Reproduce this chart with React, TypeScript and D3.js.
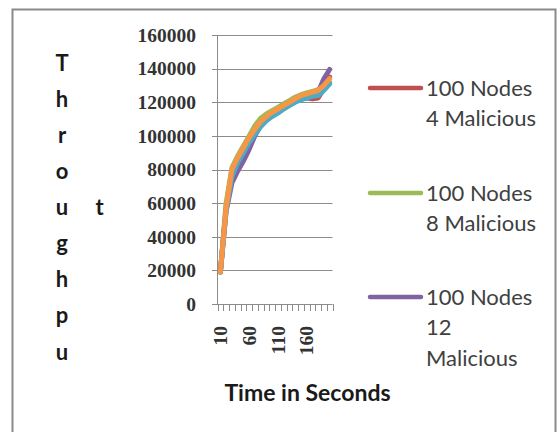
import React from "react";
import * as d3 from "d3";

const categories = [10, 20, 30, 40, 50, 60, 70, 80, 90, 100, 110, 120, 130, 140, 150, 160, 170, 180, 190, 200];
const xTickLabels = [10, 60, 110, 160];
const yTicks = [0, 20000, 40000, 60000, 80000, 100000, 120000, 140000, 160000];

const red4 = [19000, 58000, 79000, 86000, 92000, 98000, 104000, 109000, 112000, 114500, 116500, 118000, 119500, 121000, 122000, 122500, 122000, 122500, 128000, 135000];
const green8 = [19000, 60000, 81000, 88000, 94000, 100000, 106000, 110500, 113000, 115000, 117000, 119000, 121000, 123000, 124500, 125500, 126500, 127500, 129000, 132000];
const purple12 = [19000, 55000, 72000, 79000, 85000, 92000, 100000, 106000, 110000, 113000, 115000, 117000, 119000, 121000, 122500, 123500, 124500, 126000, 134000, 139500];
const aqua16 = [19000, 56000, 76000, 84000, 90000, 96000, 101000, 105500, 109000, 111500, 113500, 116000, 118000, 120000, 121500, 122500, 123500, 124000, 127000, 131000];
const orange20 = [19000, 57000, 80000, 87000, 93000, 99000, 104000, 108500, 111500, 114000, 116000, 118000, 120000, 122000, 124000, 125000, 126000, 127000, 130000, 134000];

const seriesNames = ["100 Nodes 4 Malicious", "100 Nodes 8 Malicious", "100 Nodes 12 Malicious", "100 Nodes 16 Malicious", "100 Nodes 20 Malicious"];
const seriesValues = [red4, green8, purple12, aqua16, orange20];
const seriesColors = ["#C0504D", "#9BBB59", "#8064A2", "#4BACC6", "#F79646"];

const legendLines = [
  ["100 Nodes", "4 Malicious"],
  ["100 Nodes", "8 Malicious"],
  ["100 Nodes", "12", "Malicious"],
];

const yTitleCol1 = ["T", "h", "r", "o", "u", "g", "h", "p", "u"];

export default function App() {
  const W = 559, H = 432;
  const x = d3.scaleBand<number>().domain(categories).range([217.5, 332.5]).paddingInner(0).paddingOuter(0);
  const y = d3.scaleLinear().domain([0, 160000]).range([304, 35]);
  const bw = x.bandwidth();
  const cx = (c: number) => (x(c) as number) + bw / 2;
  const line = d3.line<number>().x((_, i) => cx(categories[i])).y((v) => y(v));

  const tickXs = categories.map((c) => x(c) as number).concat([(x(categories[categories.length - 1]) as number) + bw]);

  return (
    <svg width={W} height={H} style={{ position: "fixed", left: 0, top: 0, background: "#fff" }}>
      <rect x={0} y={0} width={W} height={H} fill="#fff" />
      <rect x={12.5} y={9.5} width={543} height={440} fill="#fff" stroke="#8a8a8a" strokeWidth={2} />
      {yTicks.map((t) => (
        <line key={"g" + t} x1={212} x2={332.5} y1={Math.round(y(t)) + 0.5} y2={Math.round(y(t)) + 0.5} stroke="#8c8c8c" strokeWidth={1} />
      ))}
      <line x1={217.5} x2={217.5} y1={35} y2={304} stroke="#8c8c8c" />
      {tickXs.map((tx, i) => (
        <line key={"xt" + i} x1={Math.round(tx) + 0.5} x2={Math.round(tx) + 0.5} y1={304} y2={311} stroke="#8c8c8c" />
      ))}
      {yTicks.map((t) => (
        <text key={"yl" + t} x={196} y={y(t)} dy="0.35em" textAnchor="end" fontFamily="Liberation Serif, serif" fontWeight="bold" fontSize={19.5} fill="#333">
          {t}
        </text>
      ))}
      {xTickLabels.map((c) => (
        <text key={"xl" + c} transform={`translate(${cx(c)},${326}) rotate(-90)`} dy="0.35em" textAnchor="end" fontFamily="Liberation Serif, serif" fontWeight="bold" fontSize={19.5} fill="#333">
          {c}
        </text>
      ))}
      {seriesValues.map((vals, i) => (
        <path key={seriesNames[i]} d={line(vals) || ""} fill="none" stroke={seriesColors[i]} strokeWidth={5} strokeLinejoin="round" strokeLinecap="round" />
      ))}
      {yTitleCol1.map((ch, i) => (
        <text key={"yt" + i} x={62} y={63 + i * 36.1} dy="0.35em" textAnchor="middle" fontFamily="Lato, sans-serif" fontWeight="bold" fontSize={22} fill="#1a1a1a">
          {ch}
        </text>
      ))}
      <text x={99.5} y={207.4} dy="0.35em" textAnchor="middle" fontFamily="Lato, sans-serif" fontWeight="bold" fontSize={22} fill="#1a1a1a">
        t
      </text>
      <text x={307.5} y={392.5} dy="0.35em" textAnchor="middle" fontFamily="Lato, sans-serif" fontWeight="bold" fontSize={23} fill="#1a1a1a">
        Time in Seconds
      </text>
      {legendLines.map((lines, i) => {
        const ly = [88, 193, 297][i];
        return (
          <g key={"lg" + i}>
            <line x1={370} x2={421} y1={ly} y2={ly} stroke={seriesColors[i]} strokeWidth={4.5} strokeLinecap="round" />
            {lines.map((t, j) => (
              <text key={j} x={426} y={ly + j * 30.5} dy="0.35em" fontFamily="Lato, sans-serif" fontSize={22} fill="#404040">
                {t}
              </text>
            ))}
          </g>
        );
      })}
    </svg>
  );
}
